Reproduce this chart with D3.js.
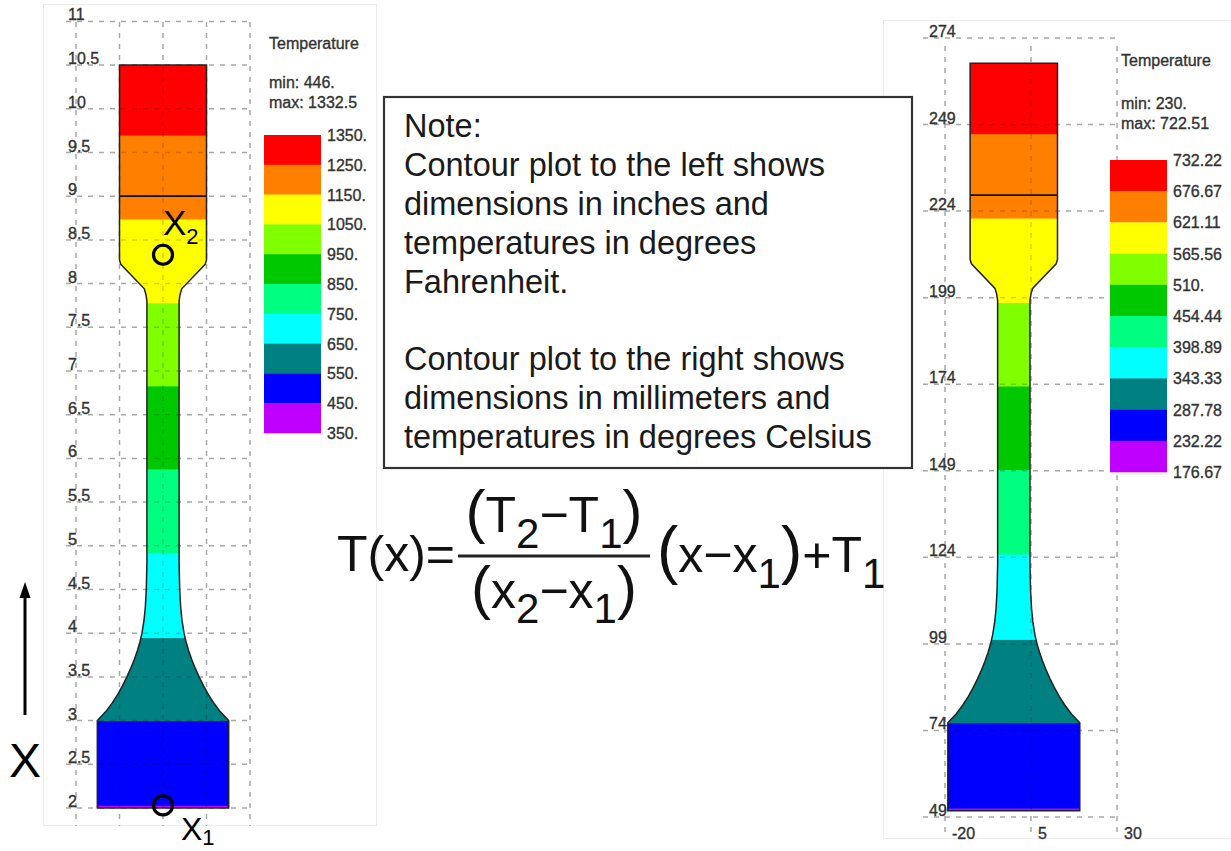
<!DOCTYPE html>
<html>
<head>
<meta charset="utf-8">
<script src="https://cdn.jsdelivr.net/npm/d3@7"></script>
<style>
  html, body { margin: 0; padding: 0; background: #fff; }
  svg { display: block; font-family: "Liberation Sans", Arial, sans-serif; }
</style>
</head>
<body>
<svg id="chart" width="1231" height="851"></svg>
<script>
// ---------------- DATA ----------------
// Specimen profile (inches): height along specimen and half-width
const profileY  = [2.0, 3.0, 3.1, 3.2, 3.3, 3.4, 3.5, 3.6, 3.7, 3.8, 3.9, 4.0, 4.15, 4.3, 4.5, 4.8, 7.8, 7.87, 7.94, 8.22, 8.27, 10.5];
const profileHW = [0.755, 0.755, 0.66, 0.585, 0.52, 0.465, 0.415, 0.37, 0.33, 0.295, 0.265, 0.242, 0.218, 0.203, 0.192, 0.185, 0.185, 0.195, 0.215, 0.485, 0.5, 0.5];
// Temperature band boundaries along the specimen (inches), bottom to top
const bandEdges  = [2.0, 2.03, 3.0, 3.95, 4.92, 5.88, 6.83, 7.78, 8.74, 9.70, 10.5];
const bandColors = ["#c000ff", "#0000ff", "#008080", "#00ffff", "#00ff80", "#00c800", "#80ff00", "#ffff00", "#ff8000", "#ff0000"];
const gripLine = 9.0;           // inches
const markerX1 = 2.03, markerX2 = 8.33;

// Left (inches / °F)
const leftTicksY = [2, 2.5, 3, 3.5, 4, 4.5, 5, 5.5, 6, 6.5, 7, 7.5, 8, 8.5, 9, 9.5, 10, 10.5, 11];
const leftGridX  = [-1, -0.5, 0, 0.5, 1];
const leftLegendLabels = ["1350.", "1250.", "1150.", "1050.", "950.", "850.", "750.", "650.", "550.", "450.", "350."];
const leftMinMax = ["min: 446.", "max: 1332.5"];

// Right (millimetres / °C)
const rightTicksY = [49, 74, 99, 124, 149, 174, 199, 224, 249, 274];
const rightTicksX = [-20, 5, 30];
const rightLegendLabels = ["732.22", "676.67", "621.11", "565.56", "510.", "454.44", "398.89", "343.33", "287.78", "232.22", "176.67"];
const rightMinMax = ["min: 230.", "max: 722.51"];
const mmPerInch = 25.4;

const noteLines = ["Note:", "Contour plot to the left shows", "dimensions in inches and", "temperatures in degrees", "Fahrenheit.", "", "Contour plot to the right shows", "dimensions in millimeters and", "temperatures in degrees Celsius"];

// ---------------- DRAW ----------------
const svg = d3.select("#chart");
const GRID = "#a8a8a8";
const TXT = "#333";

// faint panel frames
svg.append("rect").attr("x", 43.5).attr("y", 4.5).attr("width", 333).attr("height", 821)
  .attr("fill", "none").attr("stroke", "#ececec");
svg.append("rect").attr("x", 883.5).attr("y", 20.5).attr("width", 360).attr("height", 818)
  .attr("fill", "none").attr("stroke", "#ececec");

function smallText(sel, size) {
  return sel.attr("font-size", size).attr("fill", TXT)
    .attr("stroke", TXT).attr("stroke-width", 0.35);
}

function drawPanel(cfg) {
  const g = svg.append("g");
  const x = cfg.x, y = cfg.y, k = cfg.k;
  // grid
  g.selectAll("line.h").data(cfg.ticksY).join("line")
    .attr("x1", cfg.hx0).attr("x2", cfg.hx1)
    .attr("y1", d => y(d)).attr("y2", d => y(d))
    .attr("stroke", GRID).attr("stroke-width", 1.5).attr("stroke-dasharray", "5,6");
  g.selectAll("line.v").data(cfg.gridX).join("line")
    .attr("x1", d => x(d)).attr("x2", d => x(d))
    .attr("y1", cfg.vy0).attr("y2", cfg.vy1)
    .attr("stroke", GRID).attr("stroke-width", 1.5).attr("stroke-dasharray", "5,6");
  smallText(g.selectAll("text.ty").data(cfg.ticksY).join("text")
    .attr("x", cfg.labelX).attr("y", d => y(d) - 1), 16).text(d => d);

  // specimen shape
  const pts = profileY.map((v, i) => [v * k, profileHW[i] * k]);
  const outline = pts.map(p => [x(-p[1]), y(p[0])])
    .concat(pts.slice().reverse().map(p => [x(p[1]), y(p[0])]));
  const clipId = "clip" + cfg.id;
  svg.append("defs").append("clipPath").attr("id", clipId)
    .append("path").attr("d", d3.line()(outline) + "Z");
  const sg = g.append("g").attr("clip-path", `url(#${clipId})`);
  const maxHW = d3.max(profileHW) * k;
  sg.selectAll("rect").data(bandColors).join("rect")
    .attr("x", x(-maxHW) - 2).attr("width", x(maxHW) - x(-maxHW) + 4)
    .attr("y", (c, i) => y(bandEdges[i + 1] * k))
    .attr("height", (c, i) => y(bandEdges[i] * k) - y(bandEdges[i + 1] * k) + 0.5)
    .attr("fill", c => c);
  // grid over shape (faint)
  sg.selectAll("line.ho").data(cfg.ticksY).join("line")
    .attr("x1", cfg.hx0).attr("x2", cfg.hx1)
    .attr("y1", d => y(d)).attr("y2", d => y(d))
    .attr("stroke", "#000").attr("stroke-opacity", 0.18).attr("stroke-width", 1.5).attr("stroke-dasharray", "5,6");
  sg.selectAll("line.vo").data(cfg.gridX).join("line")
    .attr("x1", d => x(d)).attr("x2", d => x(d))
    .attr("y1", cfg.vy0).attr("y2", cfg.vy1)
    .attr("stroke", "#000").attr("stroke-opacity", 0.18).attr("stroke-width", 1.5).attr("stroke-dasharray", "5,6");
  // grip line
  const gi = profileY.findIndex(v => v >= gripLine);
  g.append("line").attr("x1", x(-profileHW[gi] * k)).attr("x2", x(profileHW[gi] * k))
    .attr("y1", y(gripLine * k)).attr("y2", y(gripLine * k))
    .attr("stroke", "#111").attr("stroke-width", 1.8);
  g.append("path").attr("d", d3.line()(outline) + "Z")
    .attr("fill", "none").attr("stroke", "#222").attr("stroke-width", 1.5);

  // legend
  const L = cfg.legend;
  smallText(g.append("text").attr("x", L.titleX).attr("y", L.titleY), 16).text("Temperature");
  smallText(g.selectAll("text.mm").data(cfg.minmax).join("text")
    .attr("x", L.titleX).attr("y", (d, i) => L.minY + i * 20), 16).text(d => d);
  const ly = d3.scaleLinear().domain([0, bandColors.length]).range([L.y0, L.y1]);
  const rev = bandColors.slice().reverse();
  g.selectAll("rect.sw").data(rev).join("rect")
    .attr("x", L.x0).attr("width", L.x1 - L.x0)
    .attr("y", (c, i) => ly(i)).attr("height", (c, i) => ly(i + 1) - ly(i) + 0.3)
    .attr("fill", c => c);
  smallText(g.selectAll("text.ll").data(cfg.legendLabels).join("text")
    .attr("x", L.x1 + 6).attr("y", (d, i) => ly(i) + 6), 16).text(d => d);
  return g;
}

// Left panel
const xL = d3.scaleLinear().domain([-1, 1]).range([76, 250]);
const yL = d3.scaleLinear().domain([2, 11]).range([808, 21.4]);
drawPanel({
  id: "L", x: xL, y: yL, k: 1, ticksY: leftTicksY, gridX: leftGridX,
  hx0: 66, hx1: 251, vy0: 22, vy1: 826, labelX: 68,
  minmax: leftMinMax, legendLabels: leftLegendLabels,
  legend: { titleX: 269, titleY: 49, minY: 88, x0: 264, x1: 321, y0: 135, y1: 433 }
});

// Right panel
const xR = d3.scaleLinear().domain([-20, 30]).range([945, 1117]);
const yR = d3.scaleLinear().domain([49, 274]).range([817, 38]);
const gR = drawPanel({
  id: "R", x: xR, y: yR, k: mmPerInch, ticksY: rightTicksY, gridX: rightTicksX,
  hx0: 923, hx1: 1118, vy0: 46, vy1: 838, labelX: 929,
  minmax: rightMinMax, legendLabels: rightLegendLabels,
  legend: { titleX: 1121, titleY: 66, minY: 109, x0: 1110, x1: 1167, y0: 160, y1: 472 }
});
smallText(gR.selectAll("text.tx").data(rightTicksX).join("text")
  .attr("x", d => xR(d) + 7).attr("y", 839), 16).text(d => d);

// markers X1 / X2 on the left plot
[markerX1, markerX2].forEach(v => {
  svg.append("circle").attr("cx", xL(0)).attr("cy", yL(v)).attr("r", 9.5)
    .attr("fill", "none").attr("stroke", "#000").attr("stroke-width", 3.2);
});
function subLabel(x0, yb, main, sub, fs, sfs, dy) {
  const t = svg.append("text").attr("x", x0).attr("y", yb).attr("font-size", fs).attr("fill", "#000");
  t.append("tspan").text(main);
  t.append("tspan").attr("font-size", sfs).attr("dy", dy).text(sub);
}
subLabel(163, 235, "X", "2", 35, 22, 9);
subLabel(181, 840, "X", "1", 32, 22, 5);

// vertical arrow and big X
svg.append("line").attr("x1", 25).attr("x2", 25).attr("y1", 715).attr("y2", 596)
  .attr("stroke", "#000").attr("stroke-width", 3);
svg.append("path").attr("d", "M25,582 L19.5,598 L30.5,598 Z").attr("fill", "#000");
svg.append("text").attr("x", 9).attr("y", 777).attr("font-size", 48).attr("fill", "#000").text("X");

// note box
svg.append("rect").attr("x", 384).attr("y", 97).attr("width", 528).attr("height", 371)
  .attr("fill", "#fff").attr("stroke", "#333").attr("stroke-width", 2.2);
svg.append("g").selectAll("text").data(noteLines).join("text")
  .attr("x", 404).attr("y", (d, i) => 137 + i * 38.9)
  .attr("font-size", 32.5).attr("fill", "#1a1a1a").text(d => d);

// formula
const F = svg.append("g").attr("fill", "#111");
const t1 = F.append("text").attr("x", 337).attr("y", 571).attr("font-size", 50);
t1.append("tspan").text("T(x)=");
F.append("line").attr("x1", 458).attr("x2", 650).attr("y1", 556).attr("y2", 556)
  .attr("stroke", "#222").attr("stroke-width", 3);
function frac(yb, parts) {
  const t = F.append("text").attr("x", 554).attr("y", yb).attr("text-anchor", "middle").attr("font-size", 50);
  parts.forEach(p => t.append("tspan").attr("font-size", p[1]).attr("dy", p[2]).text(p[0]));
}
frac(532, [["(", 60, 0], ["T", 50, 0], ["2", 42, 16], ["−T", 50, -16], ["1", 42, 16], [")", 60, -16]]);
frac(608, [["(", 60, 0], ["x", 50, 0], ["2", 42, 15], ["−x", 50, -15], ["1", 42, 15], [")", 60, -15]]);
const t3 = F.append("text").attr("x", 657).attr("y", 572).attr("font-size", 50);
[["(", 64, 0], ["x−x", 50, 0], ["1", 42, 16], [")", 64, -16], ["+T", 50, 0], ["1", 42, 16]]
  .forEach(p => t3.append("tspan").attr("font-size", p[1]).attr("dy", p[2]).text(p[0]));
</script>
</body>
</html>
